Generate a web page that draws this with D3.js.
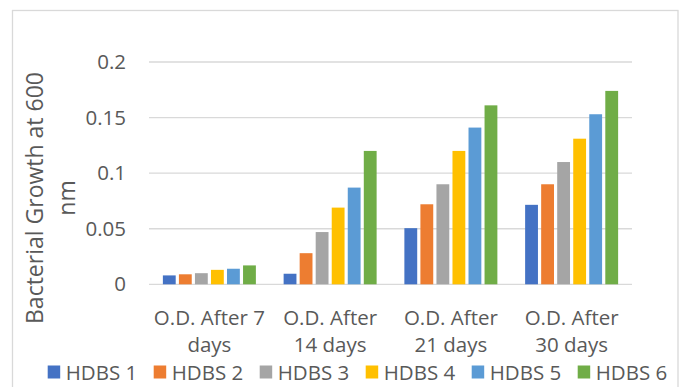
<!DOCTYPE html>
<html><head><meta charset="utf-8">
<script src="https://cdn.jsdelivr.net/npm/d3@7"></script>
<style>body{margin:0;background:#fff}svg{display:block}</style>
</head><body>
<svg id="c" width="680" height="387"></svg>
<script>
const categories = [["O.D. After 7", "days"], ["O.D. After", "14 days"], ["O.D. After", "21 days"], ["O.D. After", "30 days"]];
const seriesNames = ["HDBS 1", "HDBS 2", "HDBS 3", "HDBS 4", "HDBS 5", "HDBS 6"];
const seriesColors = ["#4472C4", "#ED7D31", "#A5A5A5", "#FFC000", "#5B9BD5", "#70AD47"];
const hdbs1 = [0.008, 0.0095, 0.0505, 0.0715];
const hdbs2 = [0.009, 0.028, 0.072, 0.090];
const hdbs3 = [0.010, 0.047, 0.090, 0.110];
const hdbs4 = [0.013, 0.069, 0.120, 0.131];
const hdbs5 = [0.014, 0.087, 0.141, 0.153];
const hdbs6 = [0.017, 0.120, 0.161, 0.174];
const yTicks = [0, 0.05, 0.1, 0.15, 0.2];
const yTitle = ["Bacterial Growth at 600", "nm"];

const seriesValues = [hdbs1, hdbs2, hdbs3, hdbs4, hdbs5, hdbs6];
const svg = d3.select("#c");
const font = "'Open Sans', sans-serif";
const txt = "#595959";

// chart border
svg.append("rect").attr("x", 12.5).attr("y", 10.5).attr("width", 665.5).attr("height", 390)
  .attr("fill", "none").attr("stroke", "#d9d9d9").attr("stroke-width", 1.3);

const x0 = d3.scaleBand().domain(d3.range(categories.length)).range([149, 632]).padding(0);
const x1 = d3.scaleBand().domain(d3.range(seriesNames.length)).range([-46.5, 46.5]).paddingInner(0.2).paddingOuter(0);
const y = d3.scaleLinear().domain([0, 0.2]).range([284.3, 62]);

// gridlines
svg.append("g").selectAll("line").data(yTicks).join("line")
  .attr("x1", 149).attr("x2", 632)
  .attr("y1", d => y(d)).attr("y2", d => y(d))
  .attr("stroke", "#d9d9d9").attr("stroke-width", 1.3);

// y tick labels
svg.append("g").selectAll("text").data(yTicks).join("text")
  .attr("x", 126).attr("y", d => y(d) + 7)
  .attr("text-anchor", "end").attr("font-family", font).attr("font-size", 20.5).attr("fill", txt)
  .text(d => d3.format("")(d));

// bars
seriesValues.forEach((vals, si) => {
  svg.append("g").selectAll("rect").data(vals).join("rect")
    .attr("x", (d, i) => x0(i) + x0.bandwidth() / 2 + x1(si))
    .attr("width", x1.bandwidth())
    .attr("y", d => y(d))
    .attr("height", d => y(0) - y(d))
    .attr("fill", seriesColors[si]);
});

// x labels
categories.forEach((lines, i) => {
  const t = svg.append("text").attr("text-anchor", "middle")
    .attr("font-family", font).attr("font-size", 20.5).attr("fill", txt);
  lines.forEach((l, j) => {
    t.append("tspan").attr("x", x0(i) + x0.bandwidth() / 2).attr("y", 325 + j * 27).text(l);
  });
});

// y title
const yt = svg.append("text").attr("transform", "translate(43,198) rotate(-90)")
  .attr("text-anchor", "middle").attr("font-family", font).attr("font-size", 23).attr("fill", txt);
yTitle.forEach((l, j) => yt.append("tspan").attr("x", 0).attr("y", j * 32).text(l));

// legend
const lg = svg.append("g").selectAll("g").data(seriesNames).join("g")
  .attr("transform", (d, i) => `translate(${47.7 + i * 106},365.5)`);
lg.append("rect").attr("width", 12.5).attr("height", 13).attr("fill", (d, i) => seriesColors[i]);
lg.append("text").attr("x", 18).attr("y", 14).attr("font-family", font).attr("font-size", 20.5)
  .attr("fill", txt).text(d => d);
</script>
</body></html>
